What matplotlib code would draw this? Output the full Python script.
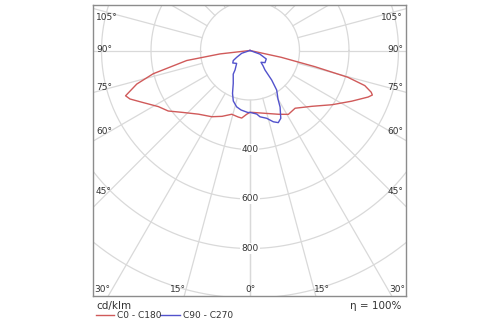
import numpy as np
import matplotlib
matplotlib.use("Agg")
import matplotlib.pyplot as plt

# Luminous intensity (cd/klm) vs. gamma angle (deg from nadir)
# C0 - C180 plane
GAMMA_C0 = [0, 1.6, 13.5, 24, 31, 38, 48, 56.5, 63.5, 68.5, 70, 71, 73, 74.7, 76, 77.7, 90]
I_C0 = [250, 250, 261, 282, 301, 296, 337, 397, 459, 513, 526, 518, 485, 410, 270, 129, 0]
GAMMA_C180 = [0, 3, 7, 10, 16, 23, 30, 39, 48, 53.5, 58.5, 64.5, 68, 70, 73.5, 76.5, 81, 83.5, 90]
I_C180 = [250, 258, 275, 273, 268, 289, 309, 331, 373, 411, 434, 485, 523, 535, 477, 402, 259, 122, 0]
# C90 - C270 plane
GAMMA_C90 = [0, 6, 8.6, 13.8, 18.1, 21.4, 24.4, 28, 30, 34, 36.3, 37.6, 40.5, 43, 51, 62.5, 70, 90]
I_C90 = [250, 258, 271, 282, 303, 313, 301, 259, 226, 193, 148, 99, 81, 65, 78, 74, 42, 0]
GAMMA_C270 = [0, 1.8, 8.6, 13.3, 18.3, 22.2, 27, 35.4, 37.6, 46, 54, 59, 63, 71.5, 90]
I_C270 = [250, 251, 243, 234, 215, 187, 149, 117, 99, 75, 86, 79, 60, 35, 0]

RINGS = [200, 400, 600, 800, 1000]
RING_LABELS = [400, 600, 800]
SPOKES = np.arange(0, 181, 15)
SIDE_LABELS = ["105°", "90°", "75°", "60°", "45°"]
BOTTOM_LABELS = ["30°", "15°", "0°", "15°", "30°"]

RED = "#d05a5a"
BLUE = "#5252cc"
GRID = "#d9d9d9"

# pixel layout -> data units (origin at the lamp centre)
S = 1 / 0.2475
CX, CY = 250, 50.5


def to_data(px, py):
    return (px - CX) * S, (CY - py) * S


def curve(g_left, i_left, g_right, i_right):
    gl = np.radians(np.array(g_left)[::-1])
    il = np.array(i_left)[::-1]
    gr = np.radians(np.array(g_right))
    ir = np.array(i_right)
    x = np.concatenate([-il * np.sin(gl), ir * np.sin(gr)])
    y = np.concatenate([-il * np.cos(gl), -ir * np.cos(gr)])
    return x, y


fig = plt.figure(figsize=(5, 3.25), dpi=100)
ax = fig.add_axes([93 / 500, 1 - 296 / 325, 313 / 500, 291 / 325])
x0, y1 = to_data(93, 5)
x1, y0 = to_data(406, 296)
ax.set_xlim(x0, x1)
ax.set_ylim(y0, y1)
ax.set_xticks([])
ax.set_yticks([])
for sp in ax.spines.values():
    sp.set_color("#8c8c8c")
    sp.set_linewidth(1.0)

# polar grid
t = np.linspace(0, 2 * np.pi, 400)
for r in RINGS:
    ax.plot(r * np.cos(t), r * np.sin(t), color=GRID, lw=0.9, zorder=1)
for a in SPOKES:
    ar = np.radians(a)
    rr = np.array([RINGS[0], 2000])
    for side in (-1, 1):
        ax.plot(side * rr * np.sin(ar), -rr * np.cos(ar), color=GRID, lw=0.9, zorder=1)

for r in RING_LABELS:
    ax.text(0, -r, str(r), ha="center", va="center", fontsize=6.5, color="#333333",
            bbox=dict(boxstyle="square,pad=0.1", fc="white", ec="none"), zorder=2)

# angle labels along the frame
for lab, py in zip(SIDE_LABELS, [17, 50, 88, 131, 192]):
    xl, yl = to_data(96, py)
    ax.text(xl, yl, lab, ha="left", va="center", fontsize=6.5, color="#333333", zorder=2)
    xr, yr = to_data(403, py)
    ax.text(xr, yr, lab, ha="right", va="center", fontsize=6.5, color="#333333", zorder=2)
for lab, px in zip(BOTTOM_LABELS, [102, 178, 250, 322, 397]):
    xb, yb = to_data(px, 289)
    ax.text(xb, yb, lab, ha="center", va="center", fontsize=6.5, color="#333333", zorder=2)

xr_, yr_ = curve(GAMMA_C180, I_C180, GAMMA_C0, I_C0)
ax.plot(xr_, yr_, color=RED, lw=1.0, zorder=3)
xb_, yb_ = curve(GAMMA_C270, I_C270, GAMMA_C90, I_C90)
ax.plot(xb_, yb_, color=BLUE, lw=1.0, zorder=4)

# footer: units, legend and efficiency
fig.text(96 / 500, 1 - 306 / 325, "cd/klm", ha="left", va="center", fontsize=7.5, color="#333333")
fig.text(401 / 500, 1 - 306 / 325, "η = 100%", ha="right", va="center", fontsize=7.5, color="#333333")
fig.add_artist(plt.Line2D([96 / 500, 114 / 500], [1 - 315 / 325] * 2, color=RED, lw=1.0))
fig.text(117 / 500, 1 - 315 / 325, "C0 - C180", ha="left", va="center", fontsize=6.5, color="#333333")
fig.add_artist(plt.Line2D([160 / 500, 180 / 500], [1 - 315 / 325] * 2, color=BLUE, lw=1.0))
fig.text(183 / 500, 1 - 315 / 325, "C90 - C270", ha="left", va="center", fontsize=6.5, color="#333333")

fig.savefig("out.png", dpi=100)
